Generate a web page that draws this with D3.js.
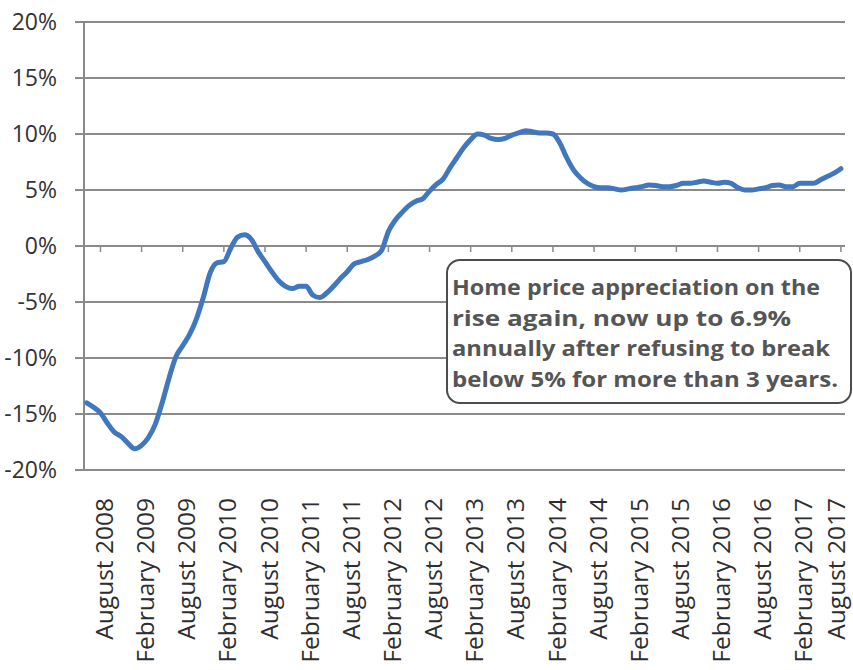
<!DOCTYPE html>
<html>
<head>
<meta charset="utf-8">
<script src="https://cdn.jsdelivr.net/npm/d3@7"></script>
<style>
  html, body { margin: 0; padding: 0; background: #fff; }
  svg { display: block; }
</style>
</head>
<body>
<svg id="chart" width="853" height="670"></svg>
<script>
// Monthly year-over-year home price appreciation (%), June 2008 .. August 2017
const startMonth = "2008-06";
const values = [
  -14.0, -14.4, -14.9, -15.8, -16.6, -17.0, -17.6, -18.1, -17.8, -17.1,
  -15.9, -14.0, -11.8, -9.9, -8.9, -7.9, -6.5, -4.6, -2.4, -1.5,
  -1.4, -0.2, 0.8, 1.0, 0.6, -0.5, -1.4, -2.3, -3.1, -3.6,
  -3.8, -3.6, -3.6, -4.4, -4.6, -4.2, -3.6, -2.9, -2.3, -1.6,
  -1.4, -1.2, -0.9, -0.4, 1.3, 2.3, 3.0, 3.6, 4.0, 4.2,
  4.9, 5.5, 6.0, 7.0, 7.9, 8.8, 9.5, 10.0, 9.9, 9.6,
  9.5, 9.6, 9.9, 10.1, 10.3, 10.2, 10.1, 10.1, 10.0, 9.2,
  7.9, 6.8, 6.1, 5.6, 5.3, 5.2, 5.2, 5.1, 5.0, 5.1,
  5.2, 5.3, 5.45, 5.4, 5.3, 5.3, 5.4, 5.6, 5.6, 5.7,
  5.8, 5.7, 5.6, 5.7, 5.6, 5.2, 5.0, 5.0, 5.1, 5.2,
  5.4, 5.45, 5.3, 5.3, 5.6, 5.6, 5.6, 5.9, 6.2, 6.5,
  6.9
];
const yTicks = [20, 15, 10, 5, 0, -5, -10, -15, -20];
const yTickLabels = ["20%", "15%", "10%", "5%", "0%", "-5%", "-10%", "-15%", "-20%"];
const xTickMonthIndex = [2, 8, 14, 20, 26, 32, 38, 44, 50, 56, 62, 68, 74, 80, 86, 92, 98, 104, 110];
const xTickLabels = [
  "August 2008", "February 2009", "August 2009", "February 2010", "August 2010",
  "February 2011", "August 2011", "February 2012", "August 2012", "February 2013",
  "August 2013", "February 2014", "August 2014", "February 2015", "August 2015",
  "February 2016", "August 2016", "February 2017", "August 2017"
];
const noteLines = [
  "Home price appreciation on the",
  "rise again, now up to 6.9%",
  "annually after refusing to break",
  "below 5% for more than 3 years."
];

const W = 853;
const svg = d3.select("#chart");
const x = d3.scaleLinear().domain([-0.4, 110.6]).range([84, 845]);
const y = d3.scaleLinear().domain([-20, 20]).range([470, 22]);

const gridColor = "#8a8a8a";

// horizontal gridlines (extending left as tick marks)
svg.append("g").selectAll("line").data(yTicks).join("line")
  .attr("x1", 75).attr("x2", 845)
  .attr("y1", d => y(d)).attr("y2", d => y(d))
  .attr("stroke", gridColor).attr("stroke-width", 2);

// vertical axis line
svg.append("line")
  .attr("x1", 84).attr("x2", 84)
  .attr("y1", y(20)).attr("y2", y(-20))
  .attr("stroke", gridColor).attr("stroke-width", 2);

// y tick labels
svg.append("g").selectAll("text").data(yTicks).join("text")
  .attr("x", 57).attr("y", d => y(d)).attr("dy", "0.35em")
  .attr("text-anchor", "end")
  .attr("font-family", "Open Sans, sans-serif")
  .attr("font-size", 23)
  .attr("fill", "#333")
  .text((d, i) => yTickLabels[i]);

// x ticks on the 0% line
svg.append("g").selectAll("line").data(xTickMonthIndex).join("line")
  .attr("x1", d => x(d)).attr("x2", d => x(d))
  .attr("y1", y(0)).attr("y2", y(0) + 6)
  .attr("stroke", gridColor).attr("stroke-width", 1.5);

// x tick labels (rotated), kept inside the right edge
svg.append("g").selectAll("text").data(xTickMonthIndex).join("text")
  .attr("transform", d => `translate(${Math.min(x(d) + 4, W - 17)},498) rotate(-90)`)
  .attr("dy", "0.35em")
  .attr("text-anchor", "end")
  .attr("font-family", "Open Sans, sans-serif")
  .attr("font-size", 24.5)
  .attr("fill", "#2e2e2e")
  .text((d, i) => xTickLabels[i]);

// data line
const line = d3.line()
  .x((d, i) => x(i))
  .y(d => y(d))
  .curve(d3.curveMonotoneX);

svg.append("path")
  .datum(values)
  .attr("d", line)
  .attr("fill", "none")
  .attr("stroke", "#4177bd")
  .attr("stroke-width", 5)
  .attr("stroke-linejoin", "round")
  .attr("stroke-linecap", "round");

// annotation box
const note = svg.append("g");
note.append("rect")
  .attr("x", 447).attr("y", 260)
  .attr("width", 404).attr("height", 143)
  .attr("rx", 13).attr("ry", 13)
  .attr("fill", "#fff")
  .attr("stroke", "#4d4d4d").attr("stroke-width", 2);
const noteWidths = [368, 339, 378, 386];
note.selectAll("text").data(noteLines).join("text")
  .attr("x", 452)
  .attr("y", (d, i) => 295 + i * 30.7)
  .attr("font-family", "Open Sans, sans-serif")
  .attr("font-weight", "bold")
  .attr("font-size", 22)
  .attr("fill", "#555")
  .attr("textLength", (d, i) => noteWidths[i])
  .attr("lengthAdjust", "spacingAndGlyphs")
  .text(d => d);
</script>
</body>
</html>
